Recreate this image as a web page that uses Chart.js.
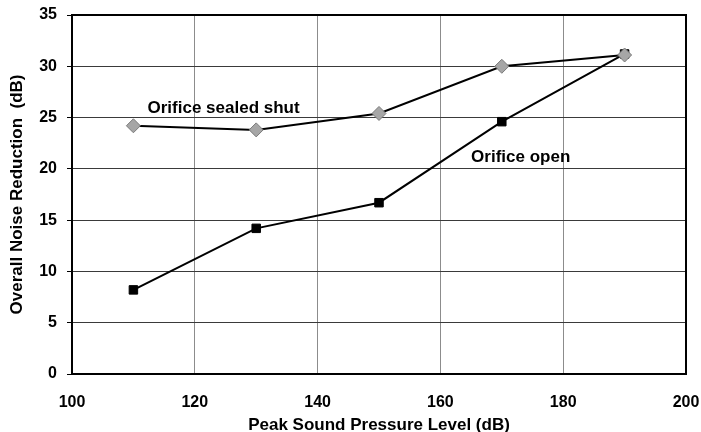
<!DOCTYPE html>
<html>
<head>
<meta charset="utf-8">
<script src="https://cdn.jsdelivr.net/npm/chart.js@4.4.0/dist/chart.umd.min.js"></script>
<style>
  html, body { margin: 0; padding: 0; background: #fff; }
  #wrap { width: 701px; height: 432px; }
</style>
</head>
<body>
<div id="wrap"><canvas id="noiseChart" width="701" height="432"></canvas></div>
<script>
const pressure = [110, 130, 150, 170, 190];
const sealedShut = [24.2, 23.8, 25.4, 30.0, 31.1];
const orificeOpen = [8.2, 14.2, 16.7, 24.6, 31.2];
const xTicks = [100, 120, 140, 160, 180, 200];
const yTicks = [0, 5, 10, 15, 20, 25, 30, 35];

const labels = [
  { text: 'Orifice sealed shut', x: 112.3, y: 25.9 },
  { text: 'Orifice open', x: 165.0, y: 21.1 }
];

const toPoints = (xs, ys) => xs.map((x, i) => ({ x: x, y: ys[i] }));
const FONT = '"Liberation Sans", Arial, sans-serif';

// draws the in-plot series labels and the thick plot frame
const extras = {
  id: 'extras',
  afterDatasetsDraw(chart) {
    const { ctx, chartArea, scales } = chart;
    ctx.save();
    ctx.font = 'bold 17px ' + FONT;
    ctx.fillStyle = '#000';
    ctx.textBaseline = 'middle';
    ctx.textAlign = 'left';
    labels.forEach(l => {
      ctx.fillText(l.text, scales.x.getPixelForValue(l.x), scales.y.getPixelForValue(l.y));
    });
    ctx.strokeStyle = '#000';
    ctx.lineWidth = 2;
    ctx.strokeRect(chartArea.left, chartArea.top, chartArea.right - chartArea.left, chartArea.bottom - chartArea.top);
    ctx.restore();
  }
};

const tickFont = { family: FONT, size: 16, weight: 'bold' };
const titleFont = { family: FONT, size: 17, weight: 'bold' };

new Chart(document.getElementById('noiseChart'), {
  type: 'line',
  data: {
    datasets: [{
      label: 'Orifice sealed shut',
      data: toPoints(pressure, sealedShut),
      borderColor: '#000',
      borderWidth: 2,
      pointStyle: 'rectRot',
      pointRadius: 7,
      pointBackgroundColor: '#a6a6a6',
      pointBorderColor: '#7a7a7a',
      pointBorderWidth: 1,
      tension: 0
    }, {
      label: 'Orifice open',
      data: toPoints(pressure, orificeOpen),
      borderColor: '#000',
      borderWidth: 2,
      pointStyle: 'rect',
      pointRadius: 6,
      pointBackgroundColor: '#000',
      pointBorderColor: '#000',
      pointBorderWidth: 1,
      tension: 0
    }]
  },
  options: {
    responsive: false,
    animation: false,
    layout: { padding: { top: 15, right: 15, bottom: 0, left: 0 } },
    plugins: { legend: { display: false }, tooltip: { enabled: false } },
    scales: {
      x: {
        type: 'linear',
        min: 100,
        max: 200,
        afterBuildTicks: s => { s.ticks = xTicks.map(v => ({ value: v })); },
        afterFit: s => { s.height = 58; s.paddingLeft = 0; s.paddingRight = 0; },
        grid: { color: '#8c8c8c', lineWidth: 1, drawTicks: false },
        border: { display: false },
        ticks: { font: tickFont, color: '#000', padding: 19 },
        title: {
          display: true,
          text: 'Peak Sound Pressure Level (dB)',
          font: titleFont,
          color: '#000',
          padding: { top: 0, bottom: -4 }
        }
      },
      y: {
        min: 0,
        max: 35,
        afterBuildTicks: s => { s.ticks = yTicks.map(v => ({ value: v })); },
        afterFit: s => { s.width = 72; s.paddingTop = 0; s.paddingBottom = 0; },
        grid: { color: '#3a3a3a', lineWidth: 1, tickLength: 5, tickColor: '#000' },
        border: { display: false },
        ticks: { font: tickFont, color: '#000', padding: 10 },
        title: {
          display: true,
          text: 'Overall Noise Reduction  (dB)',
          font: titleFont,
          color: '#000',
          padding: { top: 7, bottom: 0 }
        }
      }
    }
  },
  plugins: [extras]
});
</script>
</body>
</html>
